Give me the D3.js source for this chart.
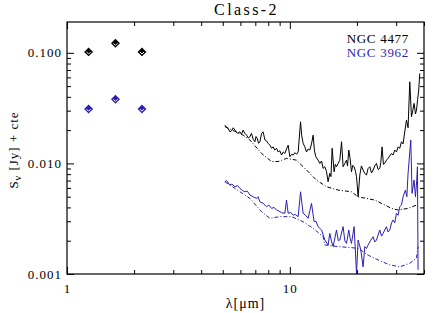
<!DOCTYPE html>
<html>
<head>
<meta charset="utf-8">
<script src="https://cdn.jsdelivr.net/npm/d3@7"></script>
<style>
  body { margin: 0; background: #fff; }
  text { font-family: "Liberation Serif", "Times New Roman", serif; }
</style>
</head>
<body>
<svg id="chart" width="436" height="313"></svg>
<script>
// photometry (J, H, K)
const photLambda = [1.25, 1.65, 2.17];
const phot4477 = [0.102, 0.122, 0.102];
const phot3962 = [0.031, 0.038, 0.031];

// NGC 4477 IRS spectrum
const spec4477Lambda = [5.11, 5.20, 5.29, 5.38, 5.48, 5.57, 5.67, 5.82, 5.97, 6.07, 6.17, 6.28, 6.40, 6.51, 6.62, 6.73, 6.85, 6.97, 7.05, 7.14, 7.24, 7.34, 7.47, 7.59, 7.73, 7.86, 7.99, 8.14, 8.28, 8.42, 8.56, 8.72, 8.86, 9.02, 9.18, 9.34, 9.50, 9.66, 9.83, 10.0, 10.18, 10.35, 10.55, 10.72, 10.90, 11.17, 11.30, 11.47, 11.68, 11.88, 12.08, 12.29, 12.51, 12.72, 12.90, 13.08, 13.39, 13.63, 13.88, 14.11, 14.36, 14.61, 14.85, 15.11, 15.30, 15.48, 15.80, 16.00, 16.20, 16.47, 16.76, 17.06, 17.34, 17.65, 17.96, 18.15, 18.39, 18.65, 18.91, 19.15, 19.43, 19.70, 19.92, 20.25, 20.61, 20.95, 21.32, 21.70, 22.08, 22.45, 22.85, 23.25, 23.64, 24.06, 24.48, 24.89, 25.33, 25.60, 25.94, 26.30, 26.67, 27.14, 27.59, 28.08, 28.58, 29.05, 29.57, 30.10, 30.60, 31.13, 31.69, 32.22, 32.78, 33.37, 33.93, 34.53, 35.14, 35.60, 36.10, 36.63, 37.01, 37.45, 37.89, 38.28];
const spec4477Flux = [0.0222, 0.0212, 0.0207, 0.0193, 0.0197, 0.0210, 0.0200, 0.0187, 0.0193, 0.0183, 0.0200, 0.0187, 0.0180, 0.0170, 0.0174, 0.0187, 0.0165, 0.0157, 0.0175, 0.0168, 0.0152, 0.0157, 0.0187, 0.0193, 0.0163, 0.0160, 0.0152, 0.0146, 0.0137, 0.0141, 0.0132, 0.0137, 0.0127, 0.0130, 0.0119, 0.0127, 0.0123, 0.0135, 0.0146, 0.0115, 0.0121, 0.0119, 0.0125, 0.0121, 0.0127, 0.0238, 0.0180, 0.0152, 0.0141, 0.0127, 0.0135, 0.0132, 0.0150, 0.0180, 0.0130, 0.0115, 0.0107, 0.0100, 0.0105, 0.00902, 0.00933, 0.00841, 0.00683, 0.00813, 0.00760, 0.0137, 0.00841, 0.00980, 0.00933, 0.0100, 0.0107, 0.0157, 0.00933, 0.0100, 0.0107, 0.0095, 0.0132, 0.0110, 0.00841, 0.0096, 0.00933, 0.0085, 0.00757, 0.00499, 0.00785, 0.0095, 0.00871, 0.0081, 0.00785, 0.0090, 0.00933, 0.0082, 0.00871, 0.0095, 0.0100, 0.0088, 0.00902, 0.0102, 0.0141, 0.0098, 0.0100, 0.0107, 0.0111, 0.0117, 0.0123, 0.0119, 0.0132, 0.0127, 0.0141, 0.0137, 0.0157, 0.0150, 0.0193, 0.0246, 0.0210, 0.0547, 0.0264, 0.0300, 0.0349, 0.0280, 0.0303, 0.0380, 0.0460, 0.0651];

// NGC 4477 model
const mod4477Lambda = [5.11, 5.67, 6.17, 6.62, 7.47, 8.28, 8.86, 9.66, 10.72, 11.88, 13.17, 14.61, 16.47, 18.91, 20.25, 24.06, 28.58, 30.60, 33.93, 37.01];
const mod4477Flux = [0.0215, 0.0195, 0.0180, 0.0163, 0.0123, 0.0104, 0.0104, 0.0111, 0.0107, 0.00871, 0.00707, 0.00615, 0.00574, 0.00554, 0.00499, 0.00466, 0.00392, 0.00379, 0.00392, 0.00420];

// NGC 3962 IRS spectrum
const spec3962Lambda = [5.11, 5.20, 5.38, 5.50, 5.67, 5.82, 5.97, 6.12, 6.28, 6.45, 6.62, 6.85, 7.09, 7.20, 7.34, 7.59, 7.86, 8.05, 8.28, 8.50, 8.72, 8.95, 9.18, 9.50, 9.66, 9.83, 10.10, 10.35, 10.60, 10.90, 11.17, 11.47, 11.75, 12.08, 12.51, 12.85, 13.10, 13.39, 13.88, 14.36, 14.85, 15.11, 15.40, 15.64, 16.20, 16.50, 16.76, 17.34, 17.65, 17.96, 18.39, 18.65, 18.91, 19.43, 19.92, 20.25, 20.82, 21.32, 21.70, 22.08, 22.45, 23.00, 23.64, 24.06, 24.48, 25.33, 25.80, 26.21, 27.14, 27.59, 28.08, 28.60, 29.05, 29.57, 30.10, 30.60, 31.13, 31.69, 32.22, 33.02, 33.50, 33.93, 34.89, 35.36, 36.10, 36.63, 37.10, 37.38, 37.62];
const spec3962Flux = [0.00683, 0.00700, 0.00637, 0.00650, 0.00615, 0.00630, 0.00595, 0.00570, 0.00554, 0.00560, 0.00518, 0.00499, 0.00483, 0.00500, 0.00450, 0.00435, 0.00406, 0.00420, 0.00392, 0.00400, 0.00379, 0.00370, 0.00358, 0.00354, 0.00466, 0.00354, 0.00360, 0.00341, 0.00345, 0.00330, 0.00554, 0.00354, 0.00340, 0.00319, 0.00435, 0.00297, 0.00300, 0.00268, 0.00250, 0.00203, 0.00183, 0.00233, 0.00195, 0.00177, 0.00250, 0.00200, 0.00203, 0.00268, 0.00200, 0.00189, 0.00250, 0.00210, 0.00189, 0.00268, 0.00101, 0.00203, 0.00165, 0.00116, 0.00177, 0.00170, 0.00183, 0.00200, 0.00217, 0.00195, 0.00203, 0.00250, 0.00220, 0.00233, 0.00268, 0.00240, 0.00250, 0.00290, 0.00308, 0.00290, 0.00354, 0.00340, 0.00406, 0.00420, 0.00499, 0.00574, 0.00500, 0.00813, 0.0163, 0.00536, 0.00707, 0.00499, 0.00700, 0.00933, 0.00109];

// NGC 3962 model
const mod3962Lambda = [5.11, 6.62, 7.47, 8.14, 9.02, 10.18, 11.47, 12.72, 14.11, 14.36, 16.47, 20.25, 22.45, 24.89, 28.08, 31.13, 34.53, 37.01, 37.62];
const mod3962Flux = [0.00683, 0.00483, 0.00365, 0.00319, 0.00330, 0.00330, 0.00297, 0.00259, 0.00217, 0.00183, 0.00177, 0.00171, 0.00148, 0.00134, 0.00121, 0.00116, 0.00125, 0.00139, 0.00177];

// axis ticks
const xMajor = [1, 10];
const xMinor = [2, 3, 4, 5, 6, 7, 8, 9, 20, 30, 40];
const yMajor = [0.001, 0.01, 0.1];
const yMinor = [0.002, 0.003, 0.004, 0.005, 0.006, 0.007, 0.008, 0.009, 0.02, 0.03, 0.04, 0.05, 0.06, 0.07, 0.08, 0.09];
const yTickLabels = ["0.001", "0.010", "0.100"];
const xTickLabels = ["1", "10"];

const legendNames = ["NGC 4477", "NGC 3962"];
const colBlack = "#000";
const colBlue = "#2c1fb0";

const svg = d3.select("#chart");
const pL = 67, pR = 424, pT = 22, pB = 274;
const fontFam = "Liberation Serif";

const x = d3.scaleLog().domain([1, 40]).range([pL, pR]);
const y = d3.scaleLog().domain([0.001, 0.19]).range([pB, pT]);

svg.append("defs").append("clipPath").attr("id", "clip")
  .append("rect").attr("x", pL).attr("y", pT)
  .attr("width", pR - pL).attr("height", pB - pT);

const zip = (a, b) => a.map((v, i) => [v, b[i]]);
const line = d3.line().x(d => x(d[0])).y(d => y(d[1]));

const plot = svg.append("g").attr("clip-path", "url(#clip)");

// models (dash-dot)
plot.append("path").datum(zip(mod4477Lambda, mod4477Flux))
  .attr("d", line).attr("fill", "none").attr("stroke", colBlack)
  .attr("stroke-width", 1).attr("stroke-dasharray", "4,2,1,2");
plot.append("path").datum(zip(mod3962Lambda, mod3962Flux))
  .attr("d", line).attr("fill", "none").attr("stroke", colBlue)
  .attr("stroke-width", 1).attr("stroke-dasharray", "4,2,1,2");

// spectra
plot.append("path").datum(zip(spec4477Lambda, spec4477Flux))
  .attr("d", line).attr("fill", "none").attr("stroke", colBlack).attr("stroke-width", 1);
plot.append("path").datum(zip(spec3962Lambda, spec3962Flux))
  .attr("d", line).attr("fill", "none").attr("stroke", colBlue).attr("stroke-width", 1);

// photometry diamonds
function diamonds(vals, col) {
  const g = svg.append("g").selectAll("g").data(zip(photLambda, vals)).join("g")
    .attr("transform", d => `translate(${x(d[0])},${y(d[1])}) rotate(45)`);
  g.append("path").attr("d", d3.symbol(d3.symbolSquare, 40)).attr("fill", col);
  g.append("path").attr("d", "M-1.5,1.5L1.5,1.5L1.5,-1.5")
    .attr("fill", "none").attr("stroke", "#fff").attr("stroke-width", 0.9);
}
diamonds(phot4477, colBlack);
diamonds(phot3962, colBlue);

// axes, ticks inward on all four sides
function axis(gen, scale, vals, size, tx, ty, labels, pad) {
  const a = gen(scale).tickValues(vals).tickSize(-size).tickPadding(pad || 0);
  a.tickFormat(labels ? (d, i) => labels[i] : () => "");
  const g = svg.append("g").attr("transform", `translate(${tx},${ty})`).call(a);
  g.attr("font-family", fontFam);
  g.select(".domain").remove();
  g.selectAll("line").attr("stroke", "#000").attr("stroke-width", 1);
  g.selectAll("text").attr("font-size", 13).attr("letter-spacing", 1).attr("fill", "#000");
  return g;
}
axis(d3.axisBottom, x, xMajor, 7, 0, pB, xTickLabels, 10);
axis(d3.axisBottom, x, xMinor, 4, 0, pB, null);
axis(d3.axisTop, x, xMajor, 7, 0, pT, null);
axis(d3.axisTop, x, xMinor, 4, 0, pT, null);
axis(d3.axisLeft, y, yMajor, 7, pL, 0, yTickLabels, 5);
axis(d3.axisLeft, y, yMinor, 4, pL, 0, null);
axis(d3.axisRight, y, yMajor, 7, pR, 0, null);
axis(d3.axisRight, y, yMinor, 4, pR, 0, null);

svg.append("rect").attr("x", pL).attr("y", pT)
  .attr("width", pR - pL).attr("height", pB - pT)
  .attr("fill", "none").attr("stroke", "#000").attr("stroke-width", 1.2);

// title and labels
svg.append("text").attr("x", (pL + pR) / 2 + 1).attr("y", 15)
  .attr("text-anchor", "middle").attr("font-size", 16).attr("letter-spacing", 2.4)
  .text("Class-2");

svg.append("text").attr("x", (pL + pR) / 2).attr("y", 308)
  .attr("text-anchor", "middle").attr("font-size", 14).attr("letter-spacing", 1)
  .text("λ[μm]");

const yl = svg.append("text").attr("transform", "translate(18,150) rotate(-90)")
  .attr("text-anchor", "middle").attr("font-size", 13).attr("letter-spacing", 1);
yl.append("tspan").text("S");
yl.append("tspan").attr("font-size", 10).attr("dy", 3).text("ν");
yl.append("tspan").attr("dy", -3).text(" [Jy] + cte");

// legend
svg.append("text").attr("x", 409).attr("y", 43).attr("text-anchor", "end")
  .attr("font-size", 13).attr("letter-spacing", 0.7).attr("fill", colBlack).text(legendNames[0]);
svg.append("text").attr("x", 409).attr("y", 57).attr("text-anchor", "end")
  .attr("font-size", 13).attr("letter-spacing", 0.7).attr("fill", colBlue).text(legendNames[1]);
</script>
</body>
</html>
